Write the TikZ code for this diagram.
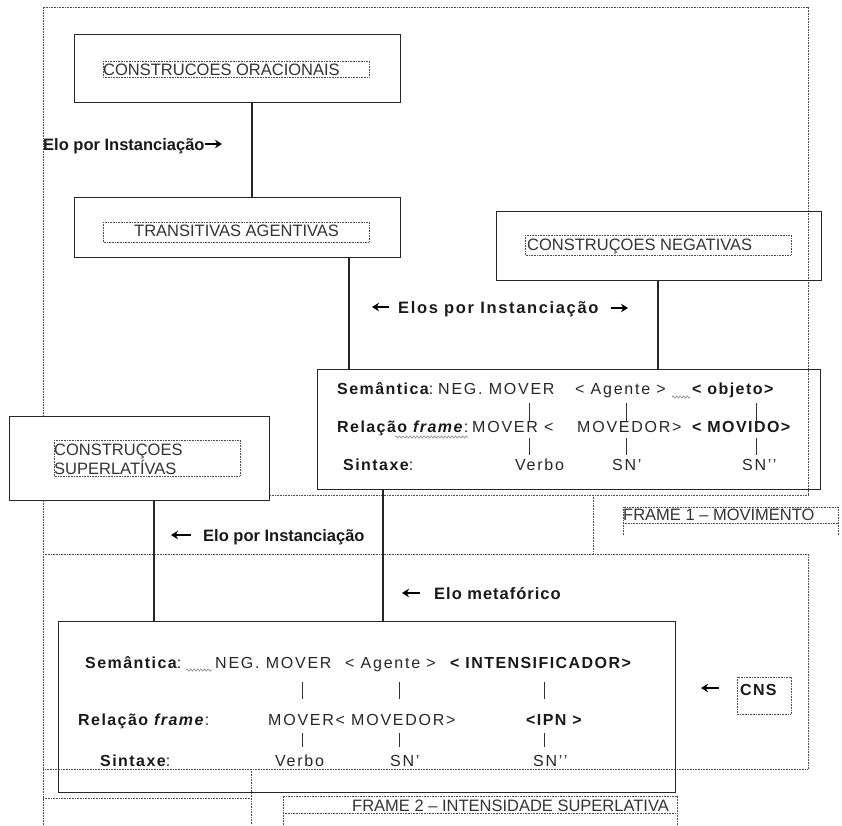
\documentclass[tikz,border=0pt]{standalone}
\usepackage{fontspec}
\setmainfont{Liberation Sans}
\usetikzlibrary{arrows.meta,decorations.pathmorphing,calc}
\begin{document}
\begin{tikzpicture}[x=1pt,y=-1pt,
  box/.style={draw=black!85, line width=1.3pt, inner sep=0pt},
  dotl/.style={draw=black!70, line width=0.8pt, dash pattern=on 0.7pt off 0.9pt},
  conn/.style={draw=black!85, line width=1.2pt},
  tick/.style={draw=black!80, line width=1pt},
  arr/.style={draw=black, line width=1.8pt, -{Stealth[length=7pt,width=8.5pt]}},
  wavy/.style={draw=black!55, line width=0.5pt, decorate, decoration={snake, amplitude=1.2pt, segment length=3.5pt}},
  lab/.style={anchor=base west, inner sep=0pt, text=black!80, font=\fontsize{16.5}{19}\selectfont},
  elo/.style={anchor=base west, inner sep=0pt, text=black!90, font=\fontsize{16.5}{19}\selectfont\bfseries},
  elos/.style={anchor=base west, inner sep=0pt, text=black!90, font=\fontsize{16.5}{19}\selectfont\bfseries\addfontfeatures{LetterSpace=10}},
  sm/.style={anchor=base west, inner sep=0pt, text=black!85, font=\fontsize{16}{18}\selectfont\addfontfeatures{LetterSpace=11}},
  smb/.style={anchor=base west, inner sep=0pt, text=black!90, font=\fontsize{16}{18}\selectfont\bfseries\addfontfeatures{LetterSpace=9}},
]
\useasboundingbox (0,0) rectangle (842,825);

% ---------- dotted frames ----------
\draw[dotl] (43,825) -- (43,7) -- (808,7) -- (808,495);
\draw[dotl] (43,495) -- (808,495);
\draw[dotl] (593,495) -- (593,554);
\draw[dotl] (43,554) -- (808,554) -- (808,769) -- (43,769);
\draw[dotl] (43,798) -- (251,798);
\draw[dotl] (251,769) -- (251,825);
\draw[dotl] (623,535) -- (623,507) -- (838,507) -- (838,535);
\draw[dotl] (623,523) -- (838,523);
\draw[dotl] (283,825) -- (283,796) -- (677,796) -- (677,825);
\draw[dotl] (283,813) -- (677,813);
\draw[dotl] (737,677) rectangle (791,714);
\draw[dotl] (103,61) rectangle (369,77);
\draw[dotl] (103,222) rectangle (369,242);
\draw[dotl] (525,235) rectangle (791,255);

% ---------- boxes ----------
\node[box, anchor=north west, minimum width=326pt, minimum height=68pt] (ora) at (74,34) {};
\node[box, anchor=north west, minimum width=326pt, minimum height=60pt] (trans) at (74,197) {};
\node[box, anchor=north west, minimum width=325pt, minimum height=69pt] (neg) at (496,211) {};
\node[box, anchor=north west, minimum width=503pt, minimum height=120pt] (sem) at (317,369) {};
\node[box, anchor=north west, minimum width=260pt, minimum height=84pt, fill=white] (sup) at (9,416) {};
\draw[dotl] (54,440) rectangle (240,476);
\node[box, anchor=north west, minimum width=617pt, minimum height=171pt] (cns) at (58,621) {};

% ---------- connectors ----------
\coordinate (xa) at (252,0);
\coordinate (xb) at (349,0);
\coordinate (xc) at (658,0);
\coordinate (xd) at (154,0);
\coordinate (xe) at (383,0);
\draw[conn] (ora.south -| xa) -- (trans.north -| xa);
\draw[conn] (trans.south -| xb) -- (sem.north -| xb);
\draw[conn] (neg.south -| xc) -- (sem.north -| xc);
\draw[conn] (sup.south -| xd) -- (cns.north -| xd);
\draw[conn] (sem.south -| xe) -- (cns.north -| xe);

% ---------- box labels ----------
\node[lab] (tora) at (103,75) {CONSTRUCOES ORACIONAIS};
\node[lab] (ttrans) at (134,236) {TRANSITIVAS AGENTIVAS};
\node[lab] (tneg) at (527,250) {CONSTRUÇOES NEGATIVAS};
\node[lab] (tsup1) at (54,455) {CONSTRUÇOES};
\node[lab] (tsup2) at (54,474) {SUPERLATÍVAS};
\node[lab] (tf1) at (623,520) {FRAME 1 – MOVIMENTO};
\node[lab] (tf2) at (352,811) {FRAME 2 – INTENSIDADE SUPERLATIVA};

% ---------- link labels ----------
\node[elo] (e1) at (43,150) {Elo por Instanciação};
\draw[arr] (205,144) -- (222,144);
\node[elos] (e2) at (398,313) {Elos por Instanciação};
\draw[arr] (389,307) -- (372,307);
\draw[arr] (611,308) -- (628,308);
\node[elo] (e3) at (203,541) {Elo por Instanciação};
\draw[arr] (191,535) -- (171,535);
\node[elo, font=\fontsize{16.5}{19}\selectfont\bfseries\addfontfeatures{LetterSpace=6}] (e4) at (434,599) {Elo metafórico};
\draw[arr] (420,593) -- (402,593);
\node[elo, font=\fontsize{16}{19}\selectfont\bfseries\addfontfeatures{LetterSpace=8}] (tcns) at (740,695) {CNS};
\draw[arr] (719,688) -- (701,688);

% ---------- Semantica box (FRAME 1) ----------
\node[smb] (s1a) at (337,394) {Semântica\mdseries:};
\node[sm] (s1b) at (438,394) {NEG. MOVER};
\node[sm] (s1c) at (575,394) {< Agente >};
\node[smb] (s1d) at (692,394) {< objeto>};
\draw[wavy] (672,397) -- (690,397);
\node[smb] (s2a) at (337,432) {Relação \textit{frame}\mdseries\upshape:};
\draw[wavy] (395,437) -- (468,437);
\node[sm] (s2b) at (472,432) {MOVER <};
\node[sm] (s2c) at (577,432) {MOVEDOR>};
\node[smb] (s2d) at (692,432) {< MOVIDO>};
\node[smb] (s3a) at (343,470) {Sintaxe\mdseries:};
\node[sm] (s3b) at (515,470) {Verbo};
\node[sm] (s3c) at (612,470) {SN’};
\node[sm] (s3d) at (742,470) {SN’’};
\foreach \x in {529,626,756}{
  \draw[tick] (\x,403) -- (\x,422);
  \draw[tick] (\x,438) -- (\x,455);
}

% ---------- bottom box (FRAME 2) ----------
\node[smb] (b1a) at (85,668) {Semântica\mdseries:};
\draw[wavy] (186,670) -- (212,670);
\node[sm] (b1b) at (215,668) {NEG. MOVER};
\node[sm] (b1c) at (345,668) {< Agente >};
\node[smb] (b1d) at (450,668) {< INTENSIFICADOR>};
\node[smb] (b2a) at (78,725) {Relação \textit{frame}\mdseries\upshape:};
\node[sm] (b2b) at (268,725) {MOVER< MOVEDOR>};
\node[smb] (b2c) at (526,725) {<IPN >};
\node[smb] (b3a) at (100,766) {Sintaxe\mdseries:};
\node[sm] (b3b) at (275,766) {Verbo};
\node[sm] (b3c) at (390,766) {SN’};
\node[sm] (b3d) at (533,766) {SN’’};
\foreach \x in {302,399,544}{
  \draw[tick] (\x,682) -- (\x,699);
  \draw[tick] (\x,733) -- (\x,747);
}
\end{tikzpicture}
\end{document}
